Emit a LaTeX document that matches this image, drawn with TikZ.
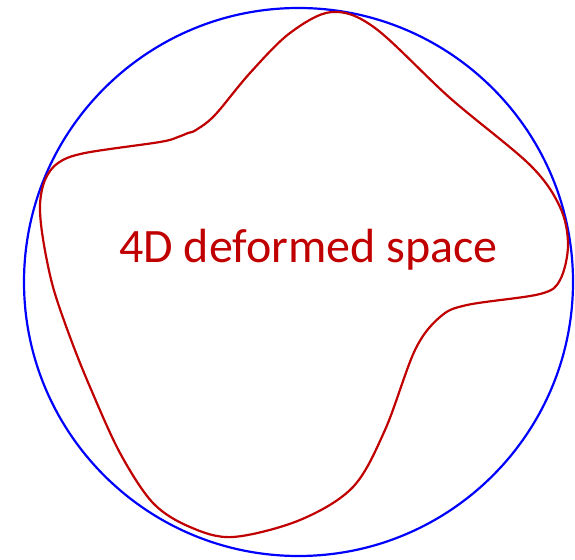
\documentclass[tikz,border=0pt]{standalone}
\usepackage{fontspec}
\setmainfont{Carlito}
\definecolor{dred}{RGB}{192,0,0}
\definecolor{pblue}{RGB}{0,0,255}
\begin{document}
\begin{tikzpicture}[x=1pt,y=1pt,
  bound/.style={draw=pblue,line width=2.2pt},
  shapeline/.style={draw=dred,line width=2.2pt,line join=round},
  lbl/.style={text=dred,font=\fontsize{48}{52}\selectfont,inner sep=0pt,anchor=base}]
\useasboundingbox (0,0) rectangle (575,559);
\draw[bound] (298.5,277) ellipse [x radius=274.5, y radius=274];
\draw[shapeline] plot[smooth cycle,tension=0.55] coordinates {
(40,354) (45,379) (58,396) (85,406) (160,417) (178,422) (188,426) (196,429)
(215,444) (250,486) (290,526) (332,547) (375,531) (450,461)
(530,394) (560,352) (568,314) (560,279) (540,265)
(467,254) (440,242) (415,209) (385,129) (353,72)
(300,39) (233,22) (190,32) (153,56) (120,106) (90,172) (70,222) (53,272) (43,320)};
\node[lbl] (title) at (308.5,296) {4D deformed space};
\end{tikzpicture}
\end{document}
